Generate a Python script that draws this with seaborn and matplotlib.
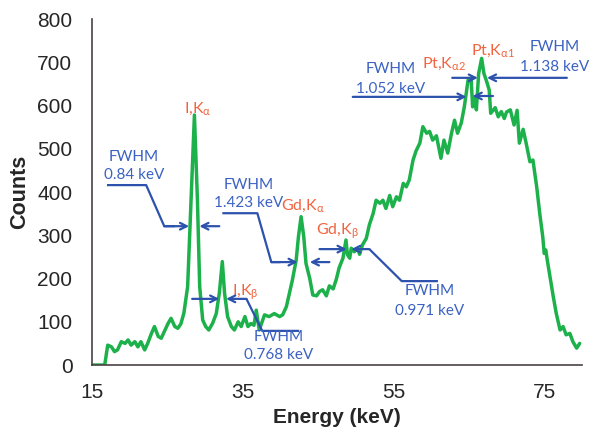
import matplotlib
matplotlib.use("Agg")
import matplotlib.pyplot as plt
import seaborn as sns
import pandas as pd

# Measured spectrum: photon energy (keV) and counts per channel
energy_kev = [15.0, 16.7, 17.1, 17.6, 18.0, 18.4, 18.9, 19.4, 19.8, 20.2, 20.7, 21.1,
              21.5, 22.0, 22.4, 22.9, 23.3, 23.8, 24.2, 24.6, 25.1, 25.5, 26.0, 26.4,
              26.8, 27.2, 27.7, 28.15, 28.6, 29.0, 29.3, 29.7, 30.1, 30.5, 31.0, 31.5,
              31.9, 32.3, 32.6, 33.0, 33.5, 33.9, 34.4, 34.8, 35.3, 35.7, 36.1, 36.5,
              36.8, 37.2, 37.9, 38.5, 39.2, 39.9, 40.3, 40.8, 41.2, 41.6, 42.1, 42.4,
              42.75, 43.1, 43.4, 43.9, 44.3, 44.8, 45.2, 45.6, 46.1, 46.5, 47.0, 47.4,
              47.8, 48.3, 48.7, 48.9, 49.2, 49.4, 49.8, 50.3, 50.5, 50.9, 51.4, 51.8,
              52.3, 52.7, 53.2, 53.6, 54.0, 54.5, 54.9, 55.4, 55.8, 56.3, 56.7, 57.1,
              57.6, 58.0, 58.5, 58.9, 59.4, 59.8, 60.2, 60.7, 61.3, 61.7, 62.2, 62.7,
              63.1, 63.5, 64.0, 64.4, 64.9, 65.3, 65.5, 65.8, 66.0, 66.3, 66.7, 67.0,
              67.3, 67.7, 67.9, 68.5, 68.9, 69.3, 69.7, 70.0, 70.5, 71.0, 71.4, 71.7,
              72.2, 72.6, 73.1, 73.5, 74.0, 74.4, 74.8, 75.0, 75.2, 75.4, 75.8, 76.2,
              76.6, 77.1, 77.5, 77.9, 78.4, 78.8, 79.3, 79.7]
counts = [0, 0, 46, 42, 31, 35, 54, 50, 58, 46, 54, 42,
          54, 35, 50, 73, 89, 66, 62, 77, 96, 108, 89, 85,
          95, 120, 181, 381, 578, 381, 181, 104, 89, 81, 96, 119,
          166, 239, 166, 112, 89, 81, 100, 89, 112, 89, 96, 92,
          127, 81, 116, 112, 119, 112, 116, 135, 166, 197, 243, 297,
          343, 297, 235, 200, 162, 160, 170, 174, 160, 183, 176, 197,
          225, 247, 289, 255, 247, 270, 262, 270, 256, 278, 293, 324,
          350, 381, 374, 381, 362, 392, 366, 389, 381, 420, 412, 428,
          474, 495, 513, 551, 536, 540, 520, 530, 478, 520, 490, 536,
          566, 536, 560, 597, 659, 663, 597, 620, 590, 674, 709, 674,
          659, 636, 582, 595, 574, 586, 570, 585, 590, 555, 589, 513,
          545, 513, 470, 474, 412, 351, 297, 258, 266, 243, 200, 158,
          119, 81, 89, 70, 73, 54, 39, 50]

x_ticks = [15, 35, 55, 75]
y_ticks = [0, 100, 200, 300, 400, 500, 600, 700, 800]

# Emission line labels (text, energy, counts)
line_labels = [
    (r"I,K$_{\alpha}$", 29.1, 594),
    (r"I,K$_{\beta}$", 35.35, 169),
    (r"Gd,K$_{\alpha}$", 42.95, 368),
    (r"Gd,K$_{\beta}$", 47.6, 310),
    (r"Pt,K$_{\alpha2}$", 61.7, 696),
    (r"Pt,K$_{\alpha1}$", 68.2, 726),
]

# FWHM values (keV) with their label positions
fwhm_values = ["0.84", "1.423", "0.768", "0.971", "1.052", "1.138"]
fwhm_text_pos = [(20.6, 480, 439), (35.8, 416, 375), (39.8, 65, 23),
                 (59.8, 171, 125), (54.6, 684, 638), (76.4, 735, 689)]

# Leader lines (polylines) and arrow pairs for each FWHM callout
leaders = [
    [(17.0, 416), (22.2, 416), (24.6, 321), (26.0, 321)],
    [(32.3, 351), (36.95, 351), (38.8, 238), (40.0, 238)],
    [(35.5, 153), (37.6, 79), (42.5, 79)],
    [(51.8, 268), (56.1, 194), (60.9, 194)],
    [],
    [],
]
arrows = [
    [((24.6, 321), (27.9, 321)), ((31.9, 321), (29.25, 321))],
    [((38.8, 238), (42.3, 238)), ((46.5, 238), (43.9, 238))],
    [((28.3, 153), (31.9, 153)), ((35.5, 153), (32.8, 153))],
    [((45.2, 268), (48.8, 268)), ((51.8, 268), (49.4, 268))],
    [((49.6, 620), (64.7, 620)), ((68.2, 622), (65.5, 622))],
    [((62.8, 664), (66.2, 664)), ((78.0, 664), (67.4, 664))],
]

sns.set_style("white")
plt.rcParams["font.family"] = ["Liberation Sans", "DejaVu Sans"]
plt.rcParams["mathtext.fontset"] = "custom"
plt.rcParams["mathtext.rm"] = "Lato"
plt.rcParams["mathtext.it"] = "Lato"

green = "#1db14b"
blue_line = "#2d52ad"
blue_text = "#3b62c2"
red_text = "#f2643f"
axis_col = "#4a4242"

fig = plt.figure(figsize=(5.89, 4.32), dpi=100)
ax = fig.add_axes([0.156, 0.155, 0.832, 0.801])

df = pd.DataFrame({"Energy (keV)": energy_kev, "Counts": counts})
sns.lineplot(data=df, x="Energy (keV)", y="Counts", ax=ax, color=green,
             lw=2.5, estimator=None, sort=True)

ax.set_xlim(15, 80)
ax.set_ylim(0, 800)
ax.set_xticks(x_ticks)
ax.set_yticks(y_ticks)
ax.tick_params(axis="both", direction="out", length=5, width=1.1, color=axis_col,
               labelsize=15)
ax.tick_params(axis="y", pad=9)
ax.tick_params(axis="x", pad=8)
for side in ("top", "right"):
    ax.spines[side].set_visible(False)
for side in ("left", "bottom"):
    ax.spines[side].set_color(axis_col)
    ax.spines[side].set_linewidth(1.2)

ax.set_xlabel("Energy (keV)", fontsize=15, fontweight="bold", labelpad=4)
ax.set_ylabel("Counts", fontsize=15.5, fontweight="bold", labelpad=5)

for txt, ex, cy in line_labels:
    ax.text(ex, cy, txt, color=red_text, fontsize=11.5, ha="center", va="center",
            family=["Lato", "DejaVu Sans"])

for val, (tx, y1, y2) in zip(fwhm_values, fwhm_text_pos):
    ax.text(tx, y1, "FWHM", color=blue_text, fontsize=11, ha="center", va="center",
            family=["Lato", "DejaVu Sans"])
    ax.text(tx, y2, f"{val} keV", color=blue_text, fontsize=11, ha="center",
            va="center", family=["Lato", "DejaVu Sans"])

for pts in leaders:
    if pts:
        xs, ys = zip(*pts)
        ax.plot(xs, ys, color=blue_line, lw=1.6, solid_capstyle="butt")

for pair in arrows:
    for tail, tip in pair:
        ax.annotate("", xy=tip, xytext=tail,
                    arrowprops=dict(arrowstyle="->", color=blue_line, lw=1.6,
                                    mutation_scale=12, shrinkA=0, shrinkB=0))

fig.savefig("out.png", dpi=100, facecolor="white")
